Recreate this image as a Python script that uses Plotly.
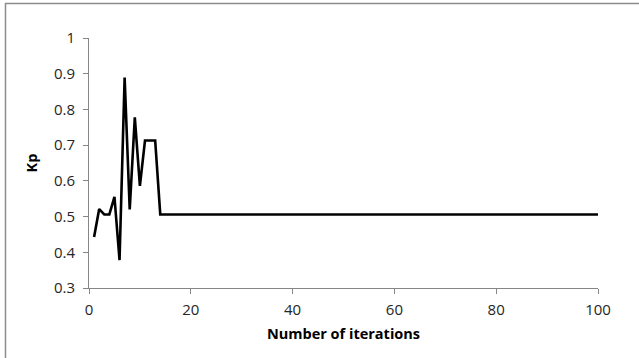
import plotly.graph_objects as go

# Kp value found at each iteration of the tuning run
iterations = list(range(1, 101))
kp_first = [0.443, 0.521, 0.506, 0.506, 0.555, 0.378, 0.889, 0.520,
            0.778, 0.586, 0.713, 0.713, 0.713]
kp_settled = 0.506
kp = kp_first + [kp_settled] * (len(iterations) - len(kp_first))

x_ticks = [0, 20, 40, 60, 80, 100]
y_ticks = [0.3, 0.4, 0.5, 0.6, 0.7, 0.8, 0.9, 1]
y_tick_text = ["0.3", "0.4", "0.5", "0.6", "0.7", "0.8", "0.9", "1"]

axis_grey = "#868686"
font_family = "Open Sans, Liberation Sans, sans-serif"

fig = go.Figure()
fig.add_trace(go.Scatter(
    x=iterations, y=kp, mode="lines",
    line=dict(color="black", width=2.6),
    showlegend=False, hoverinfo="x+y",
))

W, H = 639, 358
ml, mr, mt, mb = 89, 41, 38, 70

fig.update_layout(
    width=W, height=H,
    margin=dict(l=ml, r=mr, t=mt, b=mb),
    paper_bgcolor="white", plot_bgcolor="white",
    font=dict(family=font_family, color="#262626", size=13),
    xaxis=dict(
        range=[0, 100], tickvals=x_ticks, showgrid=False, zeroline=False,
        showline=True, linecolor=axis_grey, linewidth=1,
        ticks="outside", ticklen=5, tickcolor=axis_grey,
        tickfont=dict(size=15), ticklabelstandoff=3,
        title=dict(text="<b>Number of iterations</b>", font=dict(size=14.5, color="black"),
                   standoff=10),
    ),
    yaxis=dict(
        range=[0.3, 1], tickvals=y_ticks, ticktext=y_tick_text,
        showgrid=False, zeroline=False,
        showline=True, linecolor=axis_grey, linewidth=1,
        ticks="outside", ticklen=5, tickcolor=axis_grey,
        tickfont=dict(size=15), ticklabelstandoff=5,
        title=dict(text="<b>Kp</b>", font=dict(size=14.5, color="black"), standoff=12),
    ),
)

# Chart-area frame (runs off the right and bottom edges)
pw = W - ml - mr
ph = H - mt - mb
fig.add_shape(
    type="rect", xref="paper", yref="paper",
    x0=(5.5 - ml) / pw, x1=(W + 10 - ml) / pw,
    y0=-(mb + 10) / ph, y1=1 + (mt - 3.5) / ph,
    line=dict(color="#8c8c8c", width=1.5), layer="below",
)

fig.write_html("out.html")
